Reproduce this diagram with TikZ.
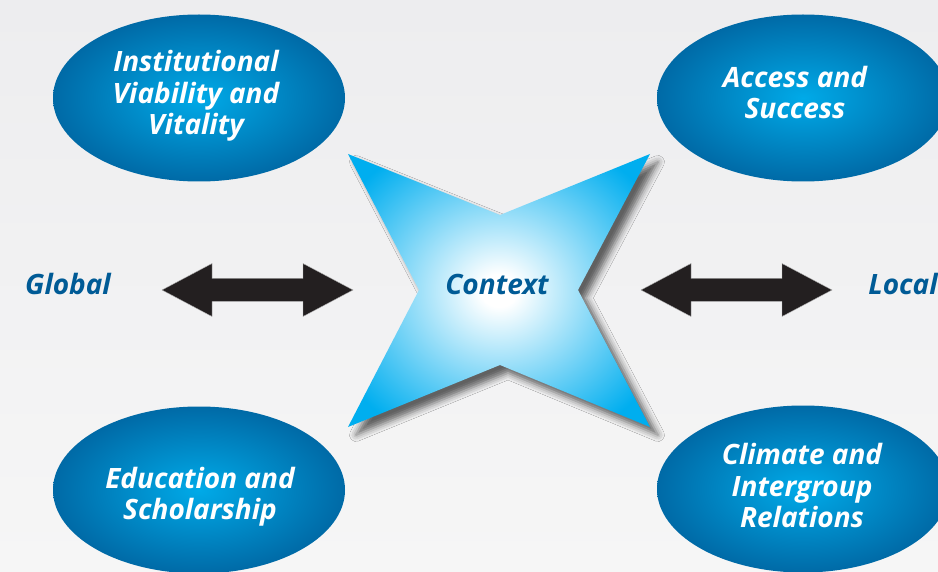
\documentclass[tikz,border=0pt]{standalone}
\usepackage{fontspec}
\setmainfont{Open Sans}
\usetikzlibrary{shapes.geometric,shadows.blur}
\definecolor{bgtop}{RGB}{237,237,239}
\definecolor{bgbot}{RGB}{246,246,246}
\definecolor{ellin}{RGB}{0,170,232}
\definecolor{ellout}{RGB}{0,88,148}
\definecolor{starcyan}{RGB}{0,174,239}
\definecolor{txtblue}{RGB}{0,91,150}
\definecolor{arrowblk}{RGB}{35,31,32}
\pgfdeclareradialshading{ellshade}{\pgfpointorigin}{color(0bp)=(ellin); color(32bp)=(ellout); color(50bp)=(ellout)}
\pgfdeclareradialshading{starshade}{\pgfpointorigin}{color(0bp)=(white); color(3bp)=(white); color(30bp)=(starcyan); color(50bp)=(starcyan)}
\tikzset{
  oval/.style={ellipse, inner sep=0pt, minimum width=292pt, minimum height=167pt, shading=ellshade},
  ovaltext/.style={text=white, align=center, inner sep=0pt, font=\fontsize{28}{31.5}\selectfont\bfseries\itshape},
  sidetext/.style={text=txtblue, inner sep=0pt, anchor=base, font=\fontsize{28}{31.5}\selectfont\bfseries\itshape},
  dblarrow/.pic={
    \fill[arrowblk, draw=gray!60, line width=0.4pt]
      (-95.5,0) -- (-45.5,-26.5) -- (-45.5,-11.5) -- (45.5,-11.5) -- (45.5,-26.5) -- (95.5,0)
      -- (45.5,26.5) -- (45.5,11.5) -- (-45.5,11.5) -- (-45.5,26.5) -- cycle;
  }
}
\begin{document}
\begin{tikzpicture}[x=1pt,y=-1pt]
\useasboundingbox (0,0) rectangle (938,572);
\fill[top color=bgtop, bottom color=bgbot] (0,0) rectangle (938,572);

% ellipses
\node[oval] (ivv) at (199,98) {};
\node[oval] (acc) at (803,98) {};
\node[oval] (edu) at (199,490) {};
\node[oval] (cli) at (803,489) {};
\node[ovaltext] (ivvt) at (196,96.2) {Institutional\\Viability and\\Vitality};
\node[ovaltext] (acct) at (795,92.3) {Access and\\Success};
\node[ovaltext] (edut) at (200,496.7) {Education and\\Scholarship};
\node[ovaltext] (clit) at (802,485.9) {Climate and\\Intergroup\\Relations};

% star
\path[blur shadow={shadow xshift=8pt, shadow yshift=-8pt, shadow blur radius=6.5pt, shadow opacity=60}, shading=starshade]
  (348,154) -- (500,215) -- (650,154) -- (578,290) -- (650,427) -- (500,365) -- (348,427) -- (419,290) -- cycle;
\node[sidetext] (context) at (497,295) {Context};

% side labels
\node[sidetext] (global) at (68,295) {Global};
\node[sidetext] (local) at (903,295) {Local};

% arrows
\pic (larrow) at (257.5,290) {dblarrow};
\pic (rarrow) at (736.5,290) {dblarrow};
\end{tikzpicture}
\end{document}
